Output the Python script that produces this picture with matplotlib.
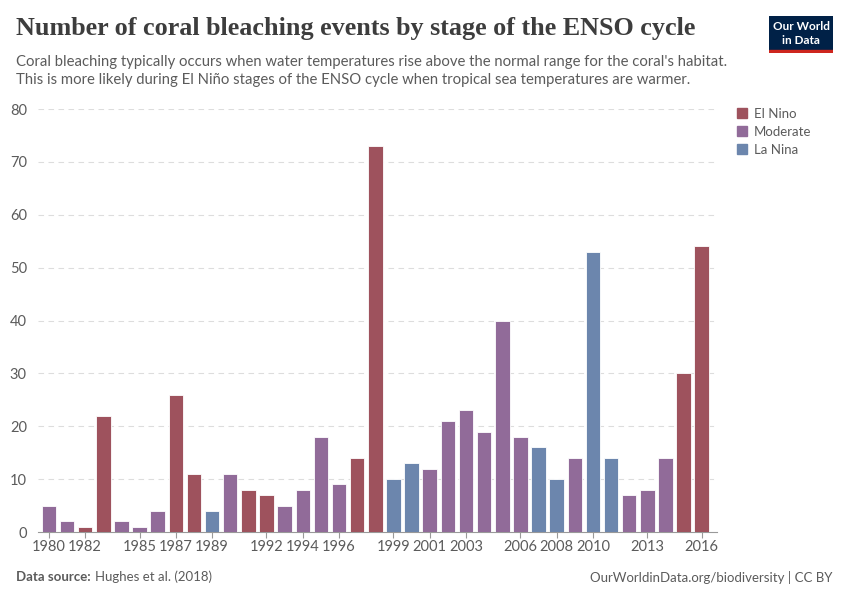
import matplotlib.pyplot as plt
import matplotlib.patches as mpatches

plt.rcParams['font.family'] = ['Lato', 'DejaVu Sans']

# data
years = list(range(1980, 2017))
events = [5, 2, 1, 22, 2, 1, 4, 26, 11, 4, 11, 8, 7, 5, 8, 18, 9, 14, 73,
          10, 13, 12, 21, 23, 19, 40, 18, 16, 10, 14, 53, 14, 7, 8, 14, 30, 54]
stages = ['Moderate', 'Moderate', 'El Nino', 'El Nino', 'Moderate', 'Moderate',
          'Moderate', 'El Nino', 'El Nino', 'La Nina', 'Moderate', 'El Nino',
          'El Nino', 'Moderate', 'Moderate', 'Moderate', 'Moderate', 'El Nino',
          'El Nino', 'La Nina', 'La Nina', 'Moderate', 'Moderate', 'Moderate',
          'Moderate', 'Moderate', 'Moderate', 'La Nina', 'La Nina', 'Moderate',
          'La Nina', 'La Nina', 'Moderate', 'Moderate', 'Moderate', 'El Nino',
          'El Nino']
stage_names = ['El Nino', 'Moderate', 'La Nina']
tick_years = [1980, 1982, 1985, 1987, 1989, 1992, 1994, 1996, 1999, 2001,
              2003, 2006, 2008, 2010, 2013, 2016]
y_ticks = [0, 10, 20, 30, 40, 50, 60, 70, 80]

colors = {'El Nino': '#9e525d', 'Moderate': '#916b99', 'La Nina': '#6c86ad'}
text_grey = '#5b5b5b'

fig = plt.figure(figsize=(8.5, 6), dpi=100)
ax = fig.add_axes([0.0447, 0.1133, 0.799, 0.705])

bar_colors = [colors[s] for s in stages]
ax.bar(years, events, width=0.8, color=bar_colors, edgecolor='white',
       linewidth=0.6, zorder=3)

ax.set_xlim(1979.4, 2016.85)
ax.set_ylim(0, 80)
ax.set_yticks(y_ticks)
ax.set_xticks(tick_years)
ax.set_xticklabels([str(y) for y in tick_years], fontsize=10.5, color=text_grey)
ax.set_yticklabels([str(v) for v in y_ticks], fontsize=10.5, color=text_grey)
ax.tick_params(axis='y', length=0, pad=8)
ax.tick_params(axis='x', length=4, color='#999999', pad=2)

for v in y_ticks[1:]:
    ax.axhline(v, color='#dddddd', linestyle=(0, (5, 4)), linewidth=0.8, zorder=1)

for s in ['top', 'right', 'left']:
    ax.spines[s].set_visible(False)
ax.spines['bottom'].set_color('#999999')

# legend
handles = [mpatches.Patch(color=colors[s], label=s) for s in stage_names]
fig.legend(handles=handles, loc='upper left', bbox_to_anchor=(0.853, 0.84),
           frameon=False, fontsize=9.5, handlelength=0.8, handleheight=0.8,
           handletextpad=0.5, labelspacing=0.45, labelcolor=text_grey)

# titles
fig.text(0.019, 0.952, 'Number of coral bleaching events by stage of the ENSO cycle',
         fontsize=18.8, fontweight='bold', color='#3d3d3d', va='center',
         family=['Liberation Serif', 'DejaVu Serif'])
fig.text(0.019, 0.897, "Coral bleaching typically occurs when water temperatures rise above the normal range for the coral's habitat.",
         fontsize=10.7, color=text_grey, va='center')
fig.text(0.019, 0.867, 'This is more likely during El Niño stages of the ENSO cycle when tropical sea temperatures are warmer.',
         fontsize=10.7, color=text_grey, va='center')

# footer
fig.text(0.019, 0.038, 'Data source:', fontsize=9.5, color=text_grey,
         fontweight='bold', va='center')
fig.text(0.112, 0.038, 'Hughes et al. (2018)', fontsize=9.5, color=text_grey,
         va='center')
fig.text(0.98, 0.038, 'OurWorldinData.org/biodiversity | CC BY', fontsize=9.5,
         color=text_grey, va='center', ha='right')

# logo
logo = fig.add_axes([0.905, 0.912, 0.075, 0.062])
logo.set_xlim(0, 1)
logo.set_ylim(0, 1)
logo.axis('off')
logo.add_patch(mpatches.Rectangle((0, 0.08), 1, 0.92, color='#002147'))
logo.add_patch(mpatches.Rectangle((0, 0), 1, 0.08, color='#ce261e'))
logo.text(0.5, 0.7, 'Our World', color='white', fontsize=8.5, ha='center',
          va='center', fontweight='bold')
logo.text(0.5, 0.33, 'in Data', color='white', fontsize=8.5, ha='center',
          va='center', fontweight='bold')

plt.savefig('out.png', dpi=100)
